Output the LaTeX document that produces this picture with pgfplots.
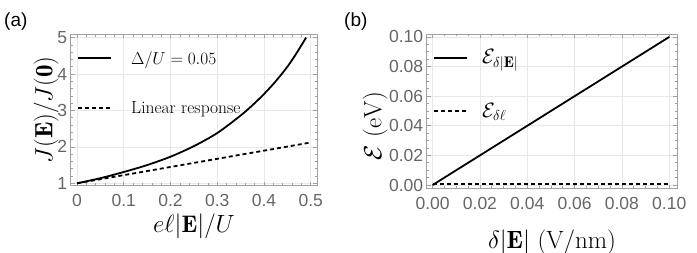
\documentclass[border=0pt]{standalone}
\usepackage{fontspec}
\usepackage{pgfplots}
\pgfplotsset{compat=1.18}
\newfontfamily\tickfont{Liberation Sans}
\newfontfamily\panelfont{Liberation Sans}
\definecolor{tickgray}{HTML}{666666}
\definecolor{framegray}{HTML}{A0A0A0}
\definecolor{gridgray}{HTML}{E8E8E8}
\pgfplotsset{mmastyle/.style={
  scale only axis,
  axis line style={framegray, line width=0.8pt},
  tick style={framegray, line width=0.6pt},
  major tick length=4pt, minor tick length=2.5pt,
  grid=major, major grid style={gridgray, line width=0.7pt},
  tick label style={font=\tickfont\fontsize{17.5}{17.5}\selectfont, text=tickgray},
  /pgf/number format/assume math mode=true,
  xticklabel style={yshift=-5pt},
  legend cell align=left,
  legend image code/.code={\draw[##1, line width=2pt] (0pt,0pt) -- (33pt,0pt);},
}}
\begin{document}
\begin{tikzpicture}[x=1pt,y=1pt]
\useasboundingbox (0,0) rectangle (697,253);
\node[anchor=west, font=\panelfont\fontsize{19}{19}\selectfont, inner sep=0pt] at (4,231) {(a)};
\node[anchor=west, font=\panelfont\fontsize{19}{19}\selectfont, inner sep=0pt] at (344,231) {(b)};
\begin{axis}[mmastyle,
  at={(70.7pt,67.3pt)}, anchor=south west,
  width=246.6pt, height=151.4pt,
  xmin=-0.0135, xmax=0.514, ymin=0.934, ymax=5.09,
  xtick={0,0.1,0.2,0.3,0.4,0.5}, xticklabels={0,0.1,0.2,0.3,0.4,0.5},
  ytick={1,2,3,4,5}, yticklabels={1,2,3,4,5},
  minor x tick num=4, minor y tick num=4,
  xlabel={$e\ell|\mathbf{E}|/U$},
  ylabel={$J(\mathbf{E})/J(\mathbf{0})$},
  every axis x label/.style={at={(axis description cs:0.5,-0.31)}, anchor=base, inner sep=0pt, font=\fontsize{24}{24}\selectfont},
  every axis y label/.style={at={(axis description cs:-0.100,0.5)}, anchor=center, rotate=90, font=\fontsize{25}{25}\selectfont},
  legend style={draw=none, fill=none, inner sep=0pt, at={(axis description cs:0.0255,0.89)}, anchor=north west,
    row sep=36pt, column sep=0pt, font=\fontsize{16}{16}\selectfont,
    nodes={inner sep=0pt}},
]
\addplot[black, line width=1.8pt, smooth] coordinates {
(0,1.00)(0.05,1.14)(0.10,1.31)(0.15,1.50)(0.20,1.73)(0.25,2.02)(0.30,2.38)
(0.35,2.86)(0.375,3.14)(0.40,3.45)(0.425,3.80)(0.45,4.20)(0.47,4.58)(0.49,5.00)};
\addlegendentry{\hspace{19pt}$\Delta/U=0.05$}
\addplot[black, line width=1.8pt, dash pattern=on 4pt off 3pt] coordinates {(0,1)(0.5,2.12)};
\addlegendentry{\hspace{19pt}{\fontsize{17.5}{17.5}\selectfont Linear response}}
\end{axis}
\begin{axis}[mmastyle,
  at={(426.7pt,64.3pt)}, anchor=south west,
  width=250.6pt, height=154.7pt,
  xmin=-0.0025, xmax=0.1034, ymin=-0.0025, ymax=0.102,
  xtick={0,0.02,0.04,0.06,0.08,0.1}, xticklabels={0.00,0.02,0.04,0.06,0.08,0.10},
  ytick={0,0.02,0.04,0.06,0.08,0.1}, yticklabels={0.00,0.02,0.04,0.06,0.08,0.10},
  minor x tick num=3, minor y tick num=3,
  xlabel={$\delta|\mathbf{E}|\ (\mathrm{V/nm})$},
  ylabel={$\mathcal{E}\ (\mathrm{eV})$},
  every axis x label/.style={at={(axis description cs:0.5,-0.385)}, anchor=base, inner sep=0pt, font=\fontsize{25}{25}\selectfont},
  every axis y label/.style={at={(axis description cs:-0.206,0.405)}, anchor=center, rotate=90, font=\fontsize{25}{25}\selectfont},
  legend style={draw=none, fill=none, inner sep=0pt, at={(axis description cs:0.025,0.90)}, anchor=north west,
    row sep=38pt, column sep=0pt, font=\fontsize{22}{22}\selectfont,
    nodes={inner sep=0pt}},
]
\addplot[black, line width=1.8pt] coordinates {(0,0)(0.1,0.1)};
\addlegendentry{\hspace{14pt}$\mathcal{E}_{\delta|\mathbf{E}|}$}
\addplot[black, line width=1.8pt, dash pattern=on 4pt off 3pt] coordinates {(0,0.0005)(0.1,0.0005)};
\addlegendentry{\hspace{14pt}$\mathcal{E}_{\delta\ell}$}
\end{axis}
\end{tikzpicture}
\end{document}
